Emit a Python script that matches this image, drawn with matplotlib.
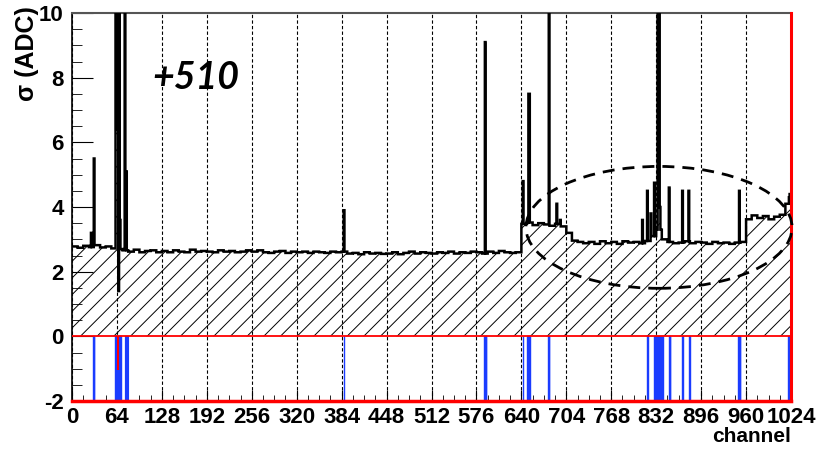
import numpy as np
import matplotlib.pyplot as plt
from matplotlib.patches import Ellipse

plt.rcParams['font.family'] = ['Liberation Sans', 'DejaVu Sans']
plt.rcParams['font.weight'] = 'bold'
plt.rcParams['axes.unicode_minus'] = False
plt.rcParams['hatch.linewidth'] = 0.7
plt.rcParams['hatch.color'] = 'black'

n_chan = 1024

# noise level, one value per block of 8 channels
block_sigma = [
    2.78, 2.74, 2.80, 2.76, 2.82, 2.75, 2.78, 2.72,
    2.70, 2.66, 2.62, 2.68, 2.60, 2.64, 2.66, 2.60,
    2.64, 2.60, 2.66, 2.62, 2.60, 2.68, 2.62, 2.64,
    2.62, 2.60, 2.66, 2.62, 2.64, 2.60, 2.62, 2.66,
    2.62, 2.66, 2.60, 2.58, 2.62, 2.64, 2.58, 2.62,
    2.60, 2.62, 2.58, 2.62, 2.60, 2.58, 2.62, 2.60,
    2.62, 2.56, 2.58, 2.54, 2.60, 2.56, 2.58, 2.55,
    2.56, 2.60, 2.54, 2.58, 2.62, 2.56, 2.60, 2.58,
    2.56, 2.60, 2.58, 2.62, 2.56, 2.60, 2.58, 2.62,
    2.60, 2.56, 2.62, 2.58, 2.64, 2.60, 2.58, 2.60,
    3.48, 3.52, 3.44, 3.50, 3.46, 3.42, 3.48, 3.40,
    3.20, 2.96, 2.92, 2.88, 2.92, 2.86, 2.94, 2.88,
    2.92, 2.86, 2.94, 2.90, 2.92, 2.88, 2.95, 3.10,
    3.30, 3.00, 2.92, 2.88, 2.90, 2.94, 2.88, 2.92,
    2.90, 2.86, 2.92, 2.88, 2.90, 2.86, 2.90, 2.92,
    3.62, 3.74, 3.66, 3.72, 3.62, 3.70, 3.76, 4.10,
]

# single noisy channels
spike_ch = [27, 31, 62, 63, 64, 65, 66, 67, 68, 75, 76, 77,
            387, 588, 642, 650, 651, 679, 690, 695,
            812, 819, 824, 829, 834, 835, 836, 837, 850, 869, 878, 950,
            1021, 1022]
spike_val = [3.2, 5.5, 10.5, 6.4, 10.5, 6.9, 1.4, 10.5, 3.6, 10.5, 4.6, 5.1,
             3.9, 9.1, 4.8, 7.5, 7.5, 10.5, 4.1, 3.6,
             3.6, 4.5, 3.8, 4.75, 10.5, 10.5, 10.5, 4.0, 4.6, 4.5, 4.5, 4.5,
             4.3, 4.4]

# flagged channels
bad_ch = [30, 31, 61, 62, 63, 64, 65, 66, 67, 68, 69, 387, 587, 588, 589,
          642, 648, 649, 650, 651, 678, 679, 819, 829,
          832, 833, 834, 835, 836, 837, 838, 839, 840, 850, 851, 869, 879,
          949, 950, 951, 1020, 1021, 1022, 1023]
weak_ch = [75, 76, 77, 78, 79]
dead_ch = [64, 65, 66]
dead_val = -1.05

edges = np.arange(n_chan + 1)
sigma = np.repeat(block_sigma, 8)
sigma[spike_ch] = spike_val

fig = plt.figure(figsize=(8.19, 4.49), dpi=100)
ax = fig.add_axes([72 / 819, 1 - 401 / 449, 719 / 819, 388 / 449])

ax.stairs(sigma, edges, baseline=0, fill=True, hatch='//',
          facecolor='none', edgecolor='black', linewidth=0, zorder=2)
ax.stairs(sigma, edges, baseline=None, color='black', linewidth=1.8, zorder=3)

blue = '#1a3cff'
ax.bar(bad_ch, -2, width=1, align='edge', color=blue, edgecolor=blue,
       linewidth=1.0, zorder=3)
ax.bar(weak_ch, -2, width=1, align='edge', color='#7d95ff', edgecolor=blue,
       linewidth=0.8, zorder=3)
ax.bar(dead_ch, dead_val, width=1, align='edge', color='red', linewidth=0,
       zorder=4)

ax.axhline(0, color='red', linewidth=1.3, zorder=4)
ax.axhline(-2, color='red', linewidth=2.5, zorder=5, clip_on=False)
ax.axvline(n_chan - 0.3, color='red', linewidth=2.2, zorder=5, clip_on=False)

ax.add_patch(Ellipse((836, 3.37), 379, 3.77, fill=False, edgecolor='black',
                     linewidth=2, linestyle=(0, (4.3, 2.9)), clip_on=False,
                     zorder=6))

ax.text(177, 8.0, '+510', fontsize=27, fontweight='bold', fontstyle='italic',
        family='Lato', ha='center', va='center')

ax.set_xlim(0, n_chan)
ax.set_ylim(-2, 10)
ax.set_xticks(np.arange(0, n_chan + 1, 64))
ax.set_xticks(np.arange(0, n_chan + 1, 16), minor=True)
ax.set_yticks(np.arange(-2, 11, 2))
ax.set_yticks(np.arange(-2, 10.1, 0.5), minor=True)
ax.tick_params(axis='both', which='both', direction='in', labelsize=16,
               top=False, right=False)
ax.tick_params(axis='x', which='major', length=8, pad=4)
ax.tick_params(axis='x', which='minor', length=4)
ax.tick_params(axis='y', which='major', length=15, pad=6)
ax.tick_params(axis='y', which='minor', length=7.5)
ax.xaxis.grid(True, color='black', linewidth=0.8, linestyle=(0, (3, 2)))
ax.set_axisbelow(True)

for side in ['left', 'bottom', 'right']:
    ax.spines[side].set_color('black')
    ax.spines[side].set_linewidth(1.2)
ax.spines['top'].set_color('#555555')
ax.spines['top'].set_linewidth(1.5)

fig.text(27 / 819, 1 - 6 / 449, 'σ (ADC)', rotation=90, fontsize=18,
         ha='center', va='top')
fig.text(791 / 819, 1 - 437 / 449, 'channel', fontsize=15,
         ha='right', va='center')

fig.savefig('out.png', dpi=100)
